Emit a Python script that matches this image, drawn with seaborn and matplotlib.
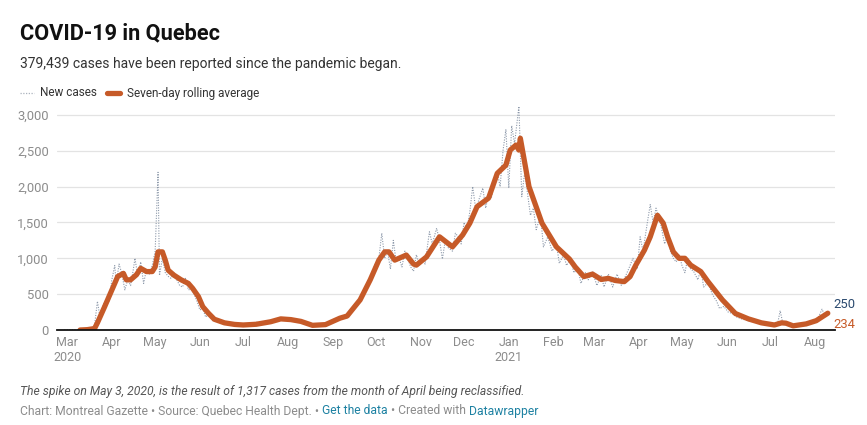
import pandas as pd
import matplotlib
matplotlib.use("Agg")
import matplotlib.pyplot as plt
from matplotlib.lines import Line2D
import seaborn as sns

# seven-day rolling average
avg_dates = [
    "2020-03-10", "2020-03-15", "2020-03-20", "2020-03-22", "2020-03-27", "2020-03-30",
    "2020-04-03", "2020-04-05", "2020-04-09", "2020-04-11", "2020-04-14", "2020-04-18",
    "2020-04-21", "2020-04-25", "2020-04-29", "2020-05-01", "2020-05-03", "2020-05-06",
    "2020-05-08", "2020-05-10", "2020-05-14", "2020-05-19", "2020-05-24", "2020-05-27",
    "2020-05-31", "2020-06-03", "2020-06-07", "2020-06-11", "2020-06-18", "2020-06-25",
    "2020-07-01", "2020-07-10", "2020-07-20", "2020-07-27", "2020-08-03", "2020-08-10",
    "2020-08-18", "2020-08-27", "2020-09-06", "2020-09-11", "2020-09-20", "2020-09-27",
    "2020-10-03", "2020-10-07", "2020-10-10", "2020-10-14", "2020-10-22", "2020-10-27",
    "2020-10-29", "2020-11-05", "2020-11-14", "2020-11-23", "2020-11-30", "2020-12-05",
    "2020-12-10", "2020-12-18", "2020-12-24", "2020-12-30", "2021-01-02", "2021-01-06",
    "2021-01-08", "2021-01-09", "2021-01-15", "2021-01-24", "2021-02-03", "2021-02-12",
    "2021-02-16", "2021-02-22", "2021-02-28", "2021-03-06", "2021-03-11", "2021-03-16",
    "2021-03-22", "2021-03-26", "2021-03-30", "2021-04-05", "2021-04-09", "2021-04-14",
    "2021-04-18", "2021-04-21", "2021-04-25", "2021-04-29", "2021-05-03", "2021-05-07",
    "2021-05-14", "2021-05-19", "2021-05-29", "2021-06-07", "2021-06-16", "2021-06-25",
    "2021-07-04", "2021-07-09", "2021-07-12", "2021-07-17", "2021-07-26", "2021-08-02",
    "2021-08-10",
]
avg_values = [
    0, 5, 20, 100, 325, 465,
    650, 745, 790, 700, 700, 770,
    860, 815, 815, 880, 1090, 1090,
    975, 835, 765, 700, 650, 580,
    465, 325, 232, 150, 100, 78,
    70, 80, 115, 155, 145, 120,
    65, 75, 165, 195, 420, 700,
    975, 1090, 1090, 975, 1045, 920,
    905, 1020, 1300, 1160, 1325, 1490,
    1720, 1840, 2185, 2300, 2510, 2580,
    2510, 2675, 2000, 1490, 1160, 990,
    880, 745, 780, 705, 720, 690,
    675, 745, 905, 1115, 1300, 1600,
    1490, 1300, 1090, 1000, 1000, 905,
    815, 675, 420, 230, 155, 100,
    70, 100, 95, 58, 85, 130,
    234,
]

# new daily cases (peaks and troughs)
new_dates = [
    "2020-02-28", "2020-03-10", "2020-03-18", "2020-03-20", "2020-03-22", "2020-03-24",
    "2020-03-26", "2020-03-28", "2020-03-30", "2020-04-01", "2020-04-03", "2020-04-04",
    "2020-04-06", "2020-04-08", "2020-04-10", "2020-04-12", "2020-04-14", "2020-04-16",
    "2020-04-17", "2020-04-19", "2020-04-21", "2020-04-23", "2020-04-25", "2020-04-27",
    "2020-04-29", "2020-05-01", "2020-05-03", "2020-05-04", "2020-05-06", "2020-05-08",
    "2020-05-10", "2020-05-12", "2020-05-14", "2020-05-16", "2020-05-18", "2020-05-20",
    "2020-05-22", "2020-05-24", "2020-05-26", "2020-05-28", "2020-05-30", "2020-06-01",
    "2020-06-03", "2020-06-05", "2020-06-07", "2020-06-10", "2020-06-14", "2020-06-18",
    "2020-06-22", "2020-06-26", "2020-07-01", "2020-07-05", "2020-07-10", "2020-07-15",
    "2020-07-20", "2020-07-24", "2020-07-28", "2020-08-02", "2020-08-06", "2020-08-10",
    "2020-08-14", "2020-08-18", "2020-08-22", "2020-08-26", "2020-08-30", "2020-09-03",
    "2020-09-07", "2020-09-10", "2020-09-14", "2020-09-16", "2020-09-19", "2020-09-21",
    "2020-09-24", "2020-09-26", "2020-09-28", "2020-09-30", "2020-10-03", "2020-10-05",
    "2020-10-07", "2020-10-09", "2020-10-11", "2020-10-13", "2020-10-15", "2020-10-17",
    "2020-10-19", "2020-10-21", "2020-10-23", "2020-10-25", "2020-10-27", "2020-10-29",
    "2020-10-31", "2020-11-02", "2020-11-04", "2020-11-07", "2020-11-09", "2020-11-12",
    "2020-11-14", "2020-11-16", "2020-11-18", "2020-11-20", "2020-11-23", "2020-11-25",
    "2020-11-27", "2020-11-29", "2020-12-01", "2020-12-03", "2020-12-05", "2020-12-07",
    "2020-12-09", "2020-12-11", "2020-12-14", "2020-12-16", "2020-12-18", "2020-12-20",
    "2020-12-22", "2020-12-24", "2020-12-26", "2020-12-28", "2020-12-30", "2021-01-01",
    "2021-01-03", "2021-01-05", "2021-01-08", "2021-01-10", "2021-01-12", "2021-01-14",
    "2021-01-16", "2021-01-18", "2021-01-20", "2021-01-23", "2021-01-25", "2021-01-28",
    "2021-01-31", "2021-02-03", "2021-02-05", "2021-02-08", "2021-02-10", "2021-02-13",
    "2021-02-15", "2021-02-18", "2021-02-20", "2021-02-23", "2021-02-25", "2021-02-28",
    "2021-03-03", "2021-03-06", "2021-03-08", "2021-03-11", "2021-03-14", "2021-03-17",
    "2021-03-20", "2021-03-23", "2021-03-25", "2021-03-28", "2021-03-31", "2021-04-02",
    "2021-04-04", "2021-04-07", "2021-04-09", "2021-04-11", "2021-04-13", "2021-04-16",
    "2021-04-19", "2021-04-21", "2021-04-23", "2021-04-25", "2021-04-27", "2021-04-29",
    "2021-05-01", "2021-05-03", "2021-05-05", "2021-05-07", "2021-05-09", "2021-05-12",
    "2021-05-14", "2021-05-16", "2021-05-19", "2021-05-22", "2021-05-25", "2021-05-27",
    "2021-05-30", "2021-06-02", "2021-06-05", "2021-06-08", "2021-06-12", "2021-06-16",
    "2021-06-20", "2021-06-24", "2021-06-28", "2021-07-02", "2021-07-06", "2021-07-08",
    "2021-07-10", "2021-07-14", "2021-07-18", "2021-07-22", "2021-07-26", "2021-07-30",
    "2021-08-03", "2021-08-06", "2021-08-08", "2021-08-10",
]
new_values = [
    0, 5, 30, 60, 400, 150,
    350, 420, 400, 700, 900, 650,
    920, 780, 560, 700, 620, 860,
    1000, 750, 950, 650, 850, 780,
    900, 1100, 2200, 760, 1000, 800,
    750, 720, 800, 700, 620, 600,
    720, 560, 570, 500, 400, 280,
    300, 180, 220, 130, 110, 100,
    70, 90, 60, 80, 110, 90,
    140, 120, 170, 140, 130, 110,
    80, 50, 80, 60, 120, 150,
    170, 200, 250, 300, 400, 500,
    580, 700, 750, 900, 1000, 1350,
    1000, 1100, 850, 1250, 950, 1000,
    880, 1100, 1000, 880, 820, 1050,
    900, 1000, 920, 1370, 1200, 1420,
    1250, 990, 1250, 1150, 1100, 1350,
    1300, 1200, 1500, 1400, 1650, 2000,
    1700, 1800, 1980, 1700, 1900, 1850,
    2100, 2200, 2000, 2500, 2800, 1980,
    2850, 2600, 3120, 1860, 2200, 1900,
    1600, 1700, 1400, 1600, 1160, 1300,
    1100, 1200, 930, 1050, 900, 1000,
    800, 850, 650, 800, 700, 820,
    620, 760, 600, 780, 600, 780,
    620, 760, 850, 1000, 850, 1300,
    1100, 1500, 1750, 1500, 1700, 1500,
    1200, 1350, 1100, 1000, 950, 1050,
    900, 800, 1000, 850, 820, 700,
    850, 600, 660, 500, 400, 300,
    330, 250, 230, 180, 150, 130,
    110, 90, 80, 65, 60, 270,
    80, 90, 55, 80, 90, 110,
    150, 290, 200, 250,
]

y_ticks = [0, 500, 1000, 1500, 2000, 2500, 3000]
month_starts = pd.date_range("2020-03-01", "2021-08-01", freq="MS")

ORANGE = "#c65a28"
DOTS = "#8d99aa"
GREY_TXT = "#8c8c8c"
BLUE = "#1d81a2"

sns.set_theme(style="white")
plt.rcParams["font.family"] = ["Roboto", "DejaVu Sans"]

df_avg = pd.DataFrame({"date": pd.to_datetime(avg_dates), "cases": avg_values})
df_new = pd.DataFrame({"date": pd.to_datetime(new_dates), "cases": new_values})

W, H = 867, 425
fig = plt.figure(figsize=(W / 100, H / 100), dpi=100)
ax = fig.add_axes([57 / W, 1 - 330 / H, 778 / W, 229.4 / H])

sns.lineplot(data=df_new, x="date", y="cases", ax=ax, color=DOTS,
             linewidth=0.8, linestyle=(0, (1, 1.3)), zorder=3)
sns.lineplot(data=df_avg, x="date", y="cases", ax=ax, color=ORANGE,
             linewidth=3.8, zorder=4, solid_capstyle="round", solid_joinstyle="round")

ax.set_xlim(pd.Timestamp("2020-02-23"), pd.Timestamp("2021-08-15"))
ax.set_ylim(0, 3200)
ax.set_yticks(y_ticks)
ax.set_yticklabels([f"{v:,}" for v in y_ticks])
for v in y_ticks[1:]:
    ax.axhline(v, color="#e3e3e3", linewidth=0.9, zorder=1)

labels = []
for d in month_starts:
    lab = d.strftime("%b")
    if d.month == 3 and d.year == 2020 or d.month == 1:
        lab += "\n" + str(d.year)
    labels.append(lab)
ax.set_xticks(month_starts)
ax.set_xticklabels(labels, linespacing=1.25)

ax.tick_params(axis="both", length=0, colors=GREY_TXT)
ax.tick_params(axis="x", pad=4, labelsize=9.0)
ax.tick_params(axis="y", pad=6, labelsize=9.4)
ax.set_xlabel("")
ax.set_ylabel("")
for s in ["top", "right", "left"]:
    ax.spines[s].set_visible(False)
ax.spines["bottom"].set_color("#111111")
ax.spines["bottom"].set_linewidth(1.3)
ax.spines["bottom"].set_zorder(5)

# end labels
last = df_avg["date"].iloc[-1] + pd.Timedelta(days=4)
ax.text(last, 350, "250", color="#2b4a6f", fontsize=9.4, va="center", ha="left", clip_on=False)
ax.text(last, 70, "234", color=ORANGE, fontsize=9.4, va="center", ha="left", clip_on=False)

# title block
fig.text(20 / W, 1 - 33 / H, "COVID-19 in Quebec", fontsize=15.7, fontweight="bold",
         color="#111111", va="center")
fig.text(20 / W, 1 - 64 / H, "379,439 cases have been reported since the pandemic began.",
         fontsize=10.0, color="#333333", va="center")

# legend
ly = 1 - 93 / H
fig.add_artist(Line2D([20 / W, 34 / W], [ly, ly], color="#aab2bd", linewidth=0.9,
                      linestyle=(0, (1, 1.2))))
fig.text(40 / W, ly, "New cases", fontsize=8.5, color="#333333", va="center")
fig.add_artist(Line2D([107 / W, 120 / W], [ly, ly], color=ORANGE, linewidth=3.8,
                      solid_capstyle="round"))
fig.text(127 / W, ly, "Seven-day rolling average", fontsize=8.5, color="#333333", va="center")

# notes
fig.text(20 / W, 1 - 392 / H,
         "The spike on May 3, 2020, is the result of 1,317 cases from the month of April being reclassified.",
         fontsize=8.7, color="#555555", style="italic", va="center")

renderer = fig.canvas.get_renderer()
pieces = [("Chart: Montreal Gazette \u2022 Source: Quebec Health Dept. \u2022", GREY_TXT),
          ("Get the data", BLUE),
          ("\u2022 Created with", GREY_TXT),
          ("Datawrapper", BLUE)]
probe = fig.text(0, 0, "a a", fontsize=8.7)
probe2 = fig.text(0, 0, "aa", fontsize=8.7)
space = (probe.get_window_extent(renderer).width - probe2.get_window_extent(renderer).width)
probe.remove()
probe2.remove()
x = 20
for txt, col in pieces:
    t = fig.text(x / W, 1 - 411 / H, txt, fontsize=8.7, color=col, va="center")
    x += t.get_window_extent(renderer).width + space

fig.savefig("out.png", dpi=100)
